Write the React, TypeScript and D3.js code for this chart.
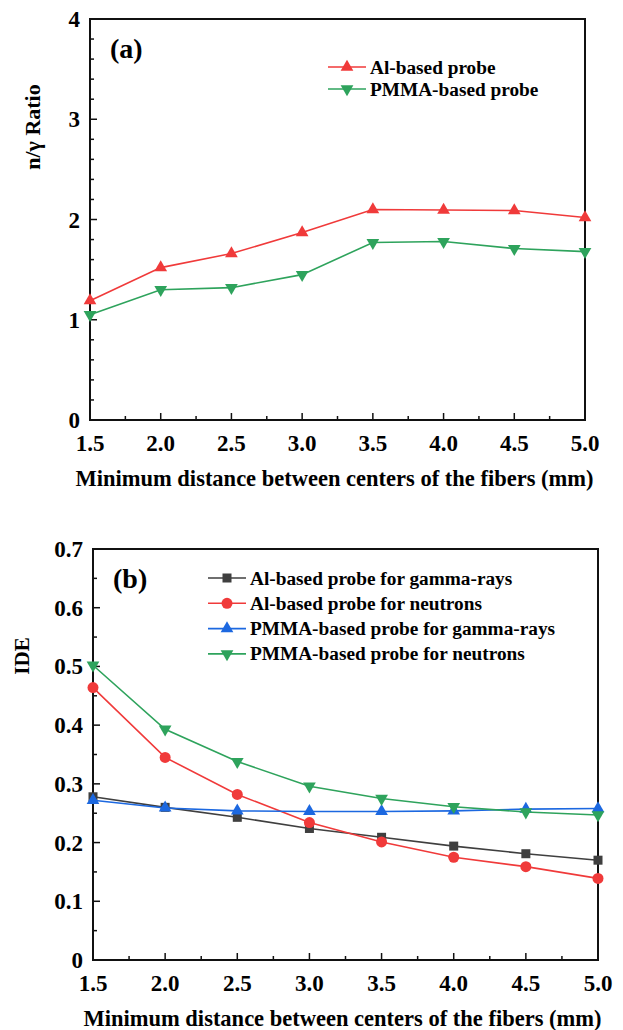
import React from 'react';
import * as d3 from 'd3';

// distances (mm)
const distances = [1.5, 2.0, 2.5, 3.0, 3.5, 4.0, 4.5, 5.0];
const xTicks = ['1.5', '2.0', '2.5', '3.0', '3.5', '4.0', '4.5', '5.0'];

// panel (a): n/gamma ratio
const ratioAl = [1.19, 1.52, 1.66, 1.87, 2.10, 2.095, 2.09, 2.02];
const ratioPmma = [1.05, 1.30, 1.32, 1.45, 1.77, 1.78, 1.71, 1.68];
const ratioTicks = [0, 1, 2, 3, 4];

// panel (b): IDE
const ideAlGamma = [0.278, 0.260, 0.243, 0.224, 0.209, 0.194, 0.181, 0.170];
const ideAlNeutron = [0.464, 0.345, 0.282, 0.234, 0.201, 0.175, 0.159, 0.139];
const idePmmaGamma = [0.272, 0.259, 0.254, 0.253, 0.253, 0.254, 0.257, 0.258];
const idePmmaNeutron = [0.502, 0.393, 0.338, 0.296, 0.275, 0.261, 0.252, 0.247];
const ideTicks = [0, 0.1, 0.2, 0.3, 0.4, 0.5, 0.6, 0.7];

const RED = '#f03a3a';
const GREEN = '#2ea35c';
const BLUE = '#1c68e0';
const GRAY = '#3f3f3f';
const FONT = '"Liberation Serif", "Times New Roman", serif';

type Series = { name: string; values: number[]; color: string; marker: string };

const seriesA: Series[] = [
  { name: 'Al-based probe', values: ratioAl, color: RED, marker: 'up' },
  { name: 'PMMA-based probe', values: ratioPmma, color: GREEN, marker: 'down' },
];

const seriesB: Series[] = [
  { name: 'Al-based probe for gamma-rays', values: ideAlGamma, color: GRAY, marker: 'square' },
  { name: 'Al-based probe for neutrons', values: ideAlNeutron, color: RED, marker: 'circle' },
  { name: 'PMMA-based probe for gamma-rays', values: idePmmaGamma, color: BLUE, marker: 'up' },
  { name: 'PMMA-based probe for neutrons', values: idePmmaNeutron, color: GREEN, marker: 'down' },
];

const Marker = ({ type, x, y, color }: { type: string; x: number; y: number; color: string }) => {
  if (type === 'circle') return <circle cx={x} cy={y} r={5.5} fill={color} />;
  if (type === 'square') return <rect x={x - 4.5} y={y - 4.5} width={9} height={9} fill={color} />;
  const path = d3.symbol().type(d3.symbolTriangle).size(70)()!;
  const rot = type === 'down' ? 180 : 0;
  return <path d={path} transform={`translate(${x},${y}) rotate(${rot})`} fill={color} />;
};

type PanelProps = {
  left: number; right: number; top: number; bottom: number;
  yMax: number; yTicks: number[]; yMinorStep: number; yFmt: (v: number) => string;
  series: Series[]; label: string; yTitle: string; yTitleX: number; yTitleY: number; yTitleSize: number;
  legendX: number; legendY: number; legendGap: number;
};

const Panel = (p: PanelProps) => {
  const x = d3.scaleLinear().domain([1.5, 5.0]).range([p.left, p.right]);
  const y = d3.scaleLinear().domain([0, p.yMax]).range([p.bottom, p.top]);
  const line = d3.line<number>().x((_, i) => x(distances[i])).y(d => y(d));
  const xMinor = d3.range(1.75, 5.0, 0.5);
  const yMinor = d3.range(p.yMinorStep, p.yMax, p.yMinorStep).filter(
    v => !p.yTicks.some(t => Math.abs(t - v) < 1e-6)
  );

  return (
    <g fontFamily={FONT} fontWeight="bold">
      {/* ticks, inward */}
      {distances.map(d => (
        <line key={'xt' + d} x1={x(d)} x2={x(d)} y1={p.bottom} y2={p.bottom - 7} stroke="#111" strokeWidth={1.5} />
      ))}
      {xMinor.map(d => (
        <line key={'xm' + d} x1={x(d)} x2={x(d)} y1={p.bottom} y2={p.bottom - 4} stroke="#111" strokeWidth={1.5} />
      ))}
      {p.yTicks.map(t => (
        <line key={'yt' + t} x1={p.left} x2={p.left + 7} y1={y(t)} y2={y(t)} stroke="#111" strokeWidth={1.5} />
      ))}
      {yMinor.map(t => (
        <line key={'ym' + t} x1={p.left} x2={p.left + 4} y1={y(t)} y2={y(t)} stroke="#111" strokeWidth={1.5} />
      ))}
      <rect x={p.left} y={p.top} width={p.right - p.left} height={p.bottom - p.top} fill="none" stroke="#111" strokeWidth={2} />

      {/* tick labels */}
      {distances.map((d, i) => (
        <text key={'xl' + d} x={x(d)} y={p.bottom + 31} textAnchor="middle" fontSize={23}>{xTicks[i]}</text>
      ))}
      {p.yTicks.map(t => (
        <text key={'yl' + t} x={p.left - 10} y={y(t) + 8} textAnchor="end" fontSize={23}>{p.yFmt(t)}</text>
      ))}

      <text x={(p.left + p.right) / 2 - 3} y={p.bottom + 66} textAnchor="middle" fontSize={22.5}>
        Minimum distance between centers of the fibers (mm)
      </text>
      <text transform={`translate(${p.yTitleX},${p.yTitleY}) rotate(-90)`} textAnchor="middle" fontSize={p.yTitleSize}>
        {p.yTitle}
      </text>
      <text x={p.left + 20} y={p.top + 39} fontSize={28}>{p.label}</text>

      {/* series */}
      {p.series.map(s => (
        <g key={s.name}>
          <path d={line(s.values)!} fill="none" stroke={s.color} strokeWidth={1.6} />
          {s.values.map((v, i) => (
            <Marker key={i} type={s.marker} x={x(distances[i])} y={y(v)} color={s.color} />
          ))}
        </g>
      ))}

      {/* legend */}
      {p.series.map((s, i) => {
        const ly = p.legendY + i * p.legendGap;
        return (
          <g key={'lg' + s.name}>
            <line x1={p.legendX} x2={p.legendX + 38} y1={ly} y2={ly} stroke={s.color} strokeWidth={1.6} />
            <Marker type={s.marker} x={p.legendX + 19} y={ly} color={s.color} />
            <text x={p.legendX + 42} y={ly + 6.5} fontSize={19.3}>{s.name}</text>
          </g>
        );
      })}
    </g>
  );
};

export default function App() {
  return (
    <svg width={623} height={1030} style={{ position: 'absolute', left: 0, top: 0, background: '#fff' }}>
      <Panel left={90} right={585} top={19} bottom={420} yMax={4} yTicks={ratioTicks} yMinorStep={0.2}
        yFmt={v => String(v)} series={seriesA} label="(a)" yTitle="n/γ Ratio" yTitleX={40} yTitleY={127} yTitleSize={22}
        legendX={328} legendY={67} legendGap={22} />
      <Panel left={93} right={598} top={549} bottom={960} yMax={0.7} yTicks={ideTicks} yMinorStep={0.05}
        yFmt={v => (v === 0 ? '0' : v.toFixed(1))} series={seriesB} label="(b)" yTitle="IDE" yTitleX={29} yTitleY={656} yTitleSize={21}
        legendX={208} legendY={578} legendGap={25.3} />
    </svg>
  );
}
